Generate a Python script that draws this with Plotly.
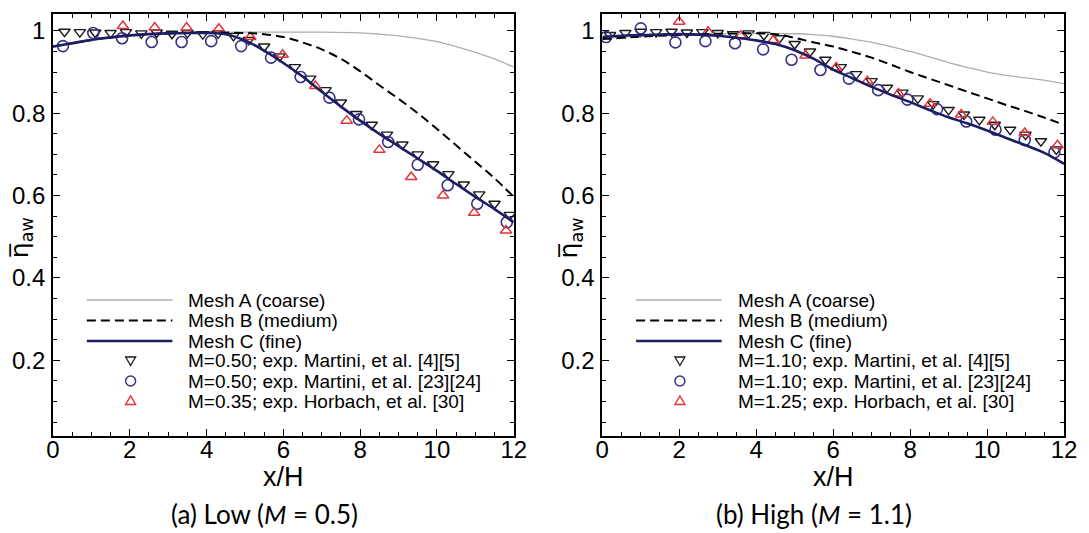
import plotly.graph_objects as go

# ---------------- data ----------------
mesh_x_fine = [0, 0.5, 1, 1.5, 2, 2.5, 3, 3.5, 4, 4.5, 5, 5.5, 6, 6.5, 7, 7.5, 8, 8.5, 9, 9.5, 10, 10.5, 11, 11.5, 12]

# (a) Low M = 0.5
meshA_x_low = [0, 0.5, 1, 1.5, 2, 3, 4, 5, 6, 7, 8, 8.5, 9, 9.5, 10, 10.5, 11, 11.5, 12]
meshA_low = [0.962, 0.972, 0.98, 0.986, 0.99, 0.994, 0.996, 0.997, 0.997, 0.997, 0.995, 0.992, 0.988, 0.982, 0.974, 0.962, 0.948, 0.932, 0.912]
meshB_x_low = [0, 0.5, 1, 1.5, 2, 3, 4, 5, 5.5, 6, 6.5, 7, 7.5, 8, 8.5, 9, 9.5, 10, 10.5, 11, 11.5, 12]
meshB_low = [0.962, 0.97, 0.978, 0.984, 0.989, 0.994, 0.996, 0.995, 0.992, 0.985, 0.972, 0.955, 0.932, 0.902, 0.868, 0.835, 0.80, 0.762, 0.722, 0.682, 0.642, 0.597]
meshC_low = [0.962, 0.970, 0.978, 0.984, 0.989, 0.992, 0.994, 0.995, 0.995, 0.992, 0.977, 0.952, 0.922, 0.889, 0.852, 0.816, 0.782, 0.75, 0.72, 0.69, 0.66, 0.628, 0.597, 0.567, 0.535]

tri_x_low = [0.3, 0.7, 1.1, 1.5, 1.9, 2.3, 2.7, 3.1, 3.5, 3.9, 4.3, 4.7, 5.1, 5.5, 5.9, 6.3, 6.7, 7.1, 7.5, 7.9, 8.3, 8.7, 9.1, 9.5, 9.9, 10.3, 10.7, 11.1, 11.5, 11.9]
tri_low = [0.998, 0.997, 0.996, 0.995, 0.997, 0.994, 0.996, 0.993, 0.995, 0.992, 0.994, 0.988, 0.978, 0.962, 0.938, 0.912, 0.884, 0.856, 0.826, 0.798, 0.772, 0.748, 0.724, 0.70, 0.676, 0.652, 0.627, 0.603, 0.58, 0.553]
circ_x_low = [0.26, 1.05, 1.8, 2.57, 3.35, 4.12, 4.9, 5.68, 6.45, 7.2, 7.97, 8.73, 9.5, 10.28, 11.05, 11.82]
circ_low = [0.963, 0.995, 0.982, 0.973, 0.973, 0.975, 0.963, 0.935, 0.888, 0.838, 0.785, 0.73, 0.675, 0.625, 0.58, 0.535]
red_x_low = [1.82, 2.65, 3.48, 4.32, 5.14, 5.98, 6.83, 7.65, 8.5, 9.33, 10.16, 10.97, 11.8]
red_low = [1.012, 1.008, 1.008, 1.005, 0.985, 0.942, 0.866, 0.782, 0.711, 0.645, 0.60, 0.558, 0.515]

# (b) High M = 1.1
meshA_x_high = [0, 1, 2, 3, 4, 5, 5.5, 6, 6.5, 7, 7.5, 8, 8.5, 9, 9.5, 10, 10.5, 11, 11.5, 12]
meshA_high = [0.982, 0.988, 0.991, 0.993, 0.994, 0.993, 0.991, 0.987, 0.98, 0.972, 0.962, 0.95, 0.937, 0.923, 0.911, 0.9, 0.892, 0.886, 0.88, 0.872]
meshB_x_high = [0, 1, 2, 3, 4, 4.5, 5, 5.5, 6, 6.5, 7, 7.5, 8, 8.5, 9, 9.5, 10, 10.5, 11, 11.5, 12]
meshB_high = [0.98, 0.986, 0.99, 0.993, 0.994, 0.992, 0.983, 0.972, 0.962, 0.949, 0.935, 0.918, 0.90, 0.884, 0.868, 0.852, 0.836, 0.82, 0.805, 0.789, 0.772]
meshC_high = [0.985, 0.988, 0.99, 0.991, 0.992, 0.991, 0.988, 0.983, 0.977, 0.968, 0.953, 0.932, 0.906, 0.885, 0.864, 0.845, 0.827, 0.808, 0.79, 0.775, 0.758, 0.74, 0.722, 0.703, 0.677]

tri_x_high = [0.2, 0.6, 1.0, 1.4, 1.8, 2.2, 2.6, 3.0, 3.4, 3.8, 4.2, 4.6, 5.0, 5.4, 5.8, 6.2, 6.6, 7.0, 7.4, 7.8, 8.2, 8.6, 9.0, 9.4, 9.8, 10.2, 10.6, 11.0, 11.4, 11.8]
tri_high = [0.99, 0.995, 0.998, 0.997, 0.998, 0.996, 0.997, 0.995, 0.992, 0.994, 0.99, 0.982, 0.968, 0.95, 0.93, 0.912, 0.895, 0.878, 0.862, 0.85, 0.836, 0.822, 0.808, 0.797, 0.784, 0.772, 0.76, 0.748, 0.732, 0.712]
circ_x_high = [0.1, 1.0, 1.9, 2.68, 3.45, 4.18, 4.92, 5.67, 6.41, 7.17, 7.93, 8.7, 9.46, 10.22, 10.98, 11.75]
circ_high = [0.985, 1.006, 0.972, 0.975, 0.97, 0.955, 0.93, 0.905, 0.884, 0.856, 0.833, 0.81, 0.78, 0.76, 0.735, 0.705]
red_x_high = [2.0, 2.75, 3.6, 4.45, 5.28, 6.08, 6.89, 7.7, 8.52, 9.33, 10.15, 10.98, 11.83]
red_high = [1.022, 0.998, 0.988, 0.978, 0.94, 0.911, 0.878, 0.848, 0.823, 0.797, 0.779, 0.752, 0.722]

x_ticks = [0, 2, 4, 6, 8, 10, 12]
y_ticks = [0.2, 0.4, 0.6, 0.8, 1.0]
y_tick_text = ["0.2", "0.4", "0.6", "0.8", "1"]

legend_lines = ["Mesh A (coarse)", "Mesh B (medium)", "Mesh C (fine)"]
legend_low = ["M=0.50; exp. Martini, et al. [4][5]",
              "M=0.50; exp. Martini, et al. [23][24]",
              "M=0.35; exp. Horbach, et al. [30]"]
legend_high = ["M=1.10; exp. Martini, et al. [4][5]",
               "M=1.10; exp. Martini, et al. [23][24]",
               "M=1.25; exp. Horbach, et al. [30]"]
captions = ["(a) Low (<i>M</i> = 0.5)", "(b) High (<i>M</i> = 1.1)"]

# ---------------- styling ----------------
W, H = 1089, 533
ML, MR, MT, MB = 50, 23, 14, 97
PW, PH = W - ML - MR, H - MT - MB

def px_x(p):
    return (p - ML) / PW

def px_y(p):
    return (H - MB - p) / PH

GRAY = "#a7b0b0"
NAVY = "#1d1d66"
CIRC = "#343488"
RED = "#e0353a"
TRI = "#1a1a1a"
FONT = "Liberation Sans, Arial, sans-serif"

fig = go.Figure()

panels = [
    ("x", "y", meshA_x_low, meshA_low, meshB_x_low, meshB_low, meshC_low,
     tri_x_low, tri_low, circ_x_low, circ_low, red_x_low, red_low),
    ("x2", "y2", meshA_x_high, meshA_high, meshB_x_high, meshB_high, meshC_high,
     tri_x_high, tri_high, circ_x_high, circ_high, red_x_high, red_high),
]

for (xa, ya, ax_, ay_, bx_, by_, cy_, tx, ty, cx, cyy, rx, ry) in panels:
    fig.add_trace(go.Scatter(x=tx, y=ty, xaxis=xa, yaxis=ya, mode="markers", cliponaxis=False,
                             marker=dict(symbol="triangle-down-open", size=10, color=TRI, line=dict(width=1.4)),
                             showlegend=False))
    fig.add_trace(go.Scatter(x=cx, y=cyy, xaxis=xa, yaxis=ya, mode="markers", cliponaxis=False,
                             marker=dict(symbol="circle-open", size=11, color=CIRC, line=dict(width=1.6)),
                             showlegend=False))
    fig.add_trace(go.Scatter(x=rx, y=ry, xaxis=xa, yaxis=ya, mode="markers", cliponaxis=False,
                             marker=dict(symbol="triangle-up-open", size=10, color=RED, line=dict(width=1.5)),
                             showlegend=False))
    fig.add_trace(go.Scatter(x=ax_, y=ay_, xaxis=xa, yaxis=ya, mode="lines", line=dict(color=GRAY, width=1.3, shape="spline"),
                             showlegend=False))
    fig.add_trace(go.Scatter(x=bx_, y=by_, xaxis=xa, yaxis=ya, mode="lines",
                             line=dict(color="black", width=2, dash="9px,5px", shape="spline"), showlegend=False))
    fig.add_trace(go.Scatter(x=mesh_x_fine, y=cy_, xaxis=xa, yaxis=ya, mode="lines",
                             line=dict(color=NAVY, width=2.6, shape="spline"), showlegend=False))

axis_common = dict(showline=True, linecolor="black", linewidth=1.8, mirror="ticks",
                   ticks="inside", tickcolor="black", tickwidth=1.3, showgrid=False, zeroline=False,
                   tickfont=dict(family=FONT, size=24, color="black"))

x_dom = [(0, px_x(513)), (px_x(602), 1)]
for i, dom in enumerate(x_dom):
    sfx = "" if i == 0 else str(i + 1)
    fig.update_layout(**{
        "xaxis" + sfx: dict(axis_common, domain=list(dom), range=[0, 12], anchor="y" + sfx,
                           tickvals=x_ticks, ticklen=7, ticklabelstandoff=-9,
                           minor=dict(ticks="inside", dtick=0.5, tick0=0, ticklen=4, tickcolor="black", tickwidth=1.1)),
        "yaxis" + sfx: dict(axis_common, domain=[0, 1], range=[0.016, 1.041], anchor="x" + sfx,
                           tickvals=y_ticks, ticktext=y_tick_text, ticklen=7, ticklabelstandoff=1,
                           minor=dict(ticks="inside", dtick=0.05, tick0=0, ticklen=4, tickcolor="black", tickwidth=1.1)),
    })

shapes = []
annotations = []
legend_rows = [300, 320.5, 341, 360.5, 381, 401]
for i, (frame_left, texts) in enumerate([(50, legend_low), (602, legend_high)]):
    lx0, lx1 = frame_left + 34, frame_left + 120
    mx = frame_left + 78
    tx = frame_left + 134
    styles = [dict(color=GRAY, width=1.3), dict(color="black", width=2, dash="9px,5px"), dict(color=NAVY, width=2.6)]
    for r in range(3):
        yy = px_y(legend_rows[r])
        shapes.append(dict(type="line", xref="paper", yref="paper", x0=px_x(lx0), x1=px_x(lx1), y0=yy, y1=yy, line=styles[r]))
    # marker symbols in legend
    ym = px_y(legend_rows[3])
    shapes.append(dict(type="path", xref="paper", yref="paper", xsizemode="pixel", ysizemode="pixel",
                       xanchor=px_x(mx), yanchor=ym, path="M-5,3.5 L5,3.5 L0,-5 Z",
                       line=dict(color=TRI, width=1.3)))
    ym = px_y(legend_rows[4])
    shapes.append(dict(type="circle", xref="paper", yref="paper", xsizemode="pixel", ysizemode="pixel",
                       xanchor=px_x(mx), yanchor=ym, x0=-5, x1=5, y0=-5, y1=5,
                       line=dict(color=CIRC, width=1.5)))
    ym = px_y(legend_rows[5])
    shapes.append(dict(type="path", xref="paper", yref="paper", xsizemode="pixel", ysizemode="pixel",
                       xanchor=px_x(mx), yanchor=ym, path="M-5,-3.5 L5,-3.5 L0,5 Z",
                       line=dict(color=RED, width=1.4)))
    all_texts = legend_lines + texts
    for r, t in enumerate(all_texts):
        annotations.append(dict(xref="paper", yref="paper", x=px_x(tx), y=px_y(legend_rows[r]), text=t,
                                showarrow=False, xanchor="left", yanchor="middle",
                                font=dict(family=FONT, size=19, color="black")))
    # axis titles
    annotations.append(dict(xref="paper", yref="paper", x=px_x(frame_left + 232), y=px_y(477), text="x/H",
                            showarrow=False, xanchor="center", yanchor="middle",
                            font=dict(family=FONT, size=27, color="black")))
    annotations.append(dict(xref="paper", yref="paper", x=px_x(frame_left - 32), y=px_y(238),
                            text="\u03b7\u0305<sub>aw</sub>", textangle=-90,
                            showarrow=False, xanchor="center", yanchor="middle",
                            font=dict(family="DejaVu Sans, sans-serif", size=25, color="black")))
    annotations.append(dict(xref="paper", yref="paper", x=px_x(frame_left + 213), y=px_y(514), text=captions[i],
                            showarrow=False, xanchor="center", yanchor="middle",
                            font=dict(family="Lato, Open Sans, sans-serif", size=26, color="black")))

fig.update_layout(width=W, height=H, margin=dict(l=ML, r=MR, t=MT, b=MB),
                  paper_bgcolor="white", plot_bgcolor="white",
                  shapes=shapes, annotations=annotations, showlegend=False)

fig.write_html("out.html")
